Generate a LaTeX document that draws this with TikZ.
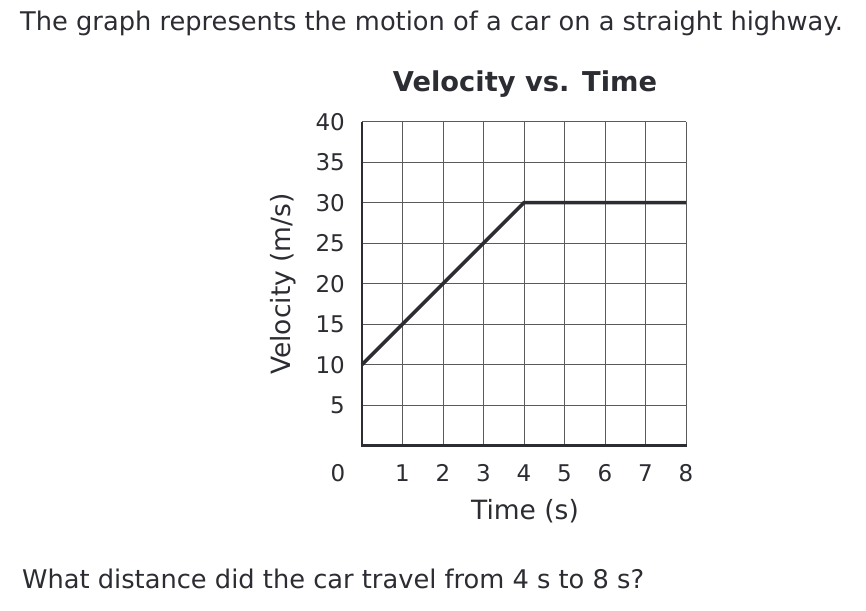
\documentclass[tikz,border=0pt]{standalone}
\usepackage{fontspec}
\setmainfont{DejaVu Sans}
\definecolor{ink}{HTML}{2B2D33}
\definecolor{gridc}{HTML}{5A5A5A}
\begin{document}
\begin{tikzpicture}[x=1pt,y=-1pt,
  txt/.style={text=ink,font=\fontsize{23}{27}\selectfont,inner sep=0pt},
  bigtxt/.style={text=ink,font=\fontsize{25.7}{30}\selectfont,inner sep=0pt},
  gridline/.style={draw=gridc,line width=1pt},
  axisline/.style={draw=ink,line width=2.5pt},
  dataline/.style={draw=ink,line width=3.5pt}]
\useasboundingbox (0,0) rectangle (866,610);
\fill[white] (0,0) rectangle (866,610);
% grid
\foreach \i in {1,...,8} {\draw[gridline] ({362+40.5*\i},121.7) -- ({362+40.5*\i},445.7);}
\foreach \j in {1,...,8} {\draw[gridline] (362,{445.7-40.5*\j}) -- (686,{445.7-40.5*\j});}
% axes
\coordinate (o) at (362,445.7);
\coordinate (top) at (362,121.7);
\coordinate (right) at (687,445.7);
\draw[axisline] (top) -- (o) -- (right);
% data
\coordinate (p0) at (362,364.7);
\coordinate (p4) at (524,202.7);
\coordinate (p8) at (686,202.7);
\draw[dataline,line join=miter] (p0) -- (p4) -- (p8);
% y ticks labels
\foreach \v [count=\j from 1] in {5,10,15,20,25,30,35,40} {
  \node[txt,anchor=east] (y\v) at (345,{445.7-40.5*\j}) {\v};
}
\node[txt] (y0) at (338,473) {0};
\foreach \i in {1,...,8} {\node[txt] (x\i) at ({362+40.5*\i},473) {\i};}
\node[txt,font=\fontsize{26.5}{30}\selectfont] (xlabel) at (525,511) {Time (s)};
\node[txt,font=\fontsize{26.5}{30}\selectfont,rotate=90] (ylabel) at (283,284) {Velocity (m/s)};
\node[txt,font=\fontsize{27.3}{31}\selectfont\bfseries] (title) at (525,84) {Velocity vs. Time};
\node[bigtxt,anchor=west] (q) at (20,23) {The graph represents the motion of a car on a straight highway.};
\node[bigtxt,anchor=west] (ask) at (22,579) {What distance did the car travel from 4 s to 8 s?};
\end{tikzpicture}
\end{document}
